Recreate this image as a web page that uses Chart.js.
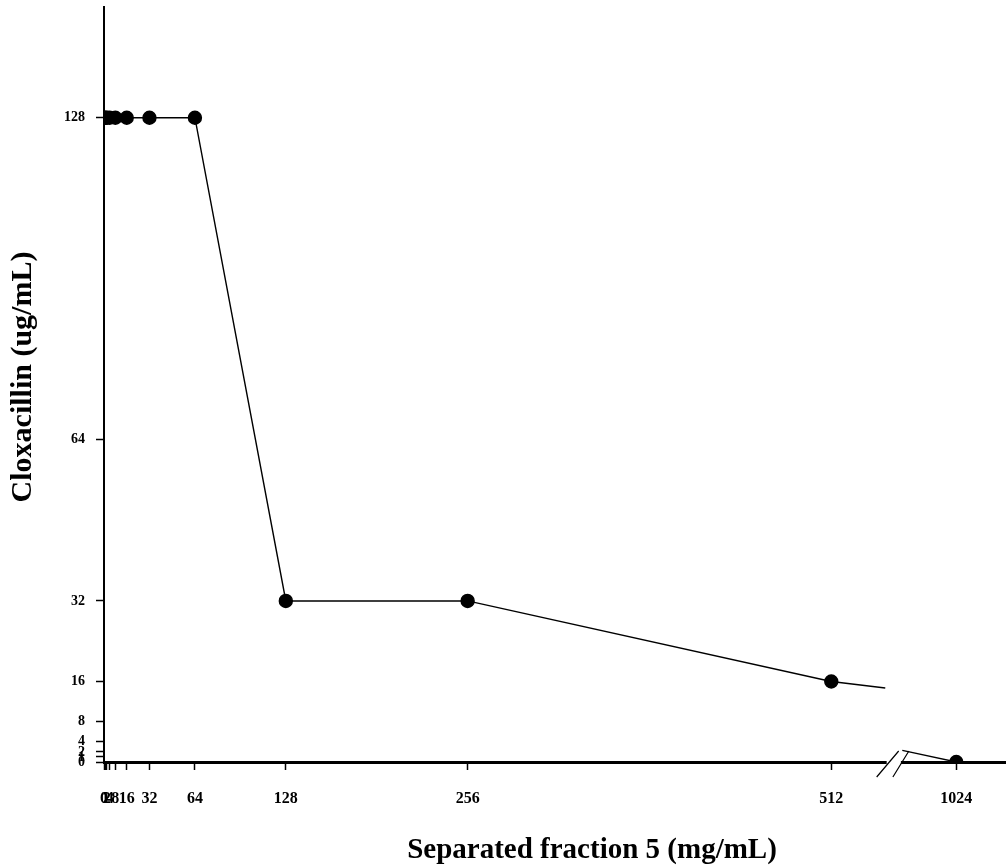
<!DOCTYPE html>
<html>
<head>
<meta charset="utf-8">
<script src="https://cdn.jsdelivr.net/npm/chart.js@4.4.1/dist/chart.umd.min.js"></script>
<style>
  html, body { margin: 0; padding: 0; background: #fff; }
  #wrap { width: 1006px; height: 867px; }
</style>
</head>
<body>
<div id="wrap"><canvas id="myChart"></canvas></div>
<script>
// data
const fraction5 = [0, 1, 2, 4, 8, 16, 32, 64, 128, 256, 512, 1024]; // mg/mL
const cloxacillin = [128, 128, 128, 128, 128, 128, 128, 128, 32, 32, 16, 0]; // ug/mL
const xTickLabels = [0, 1, 2, 4, 8, 16, 32, 64, 128, 256, 512, 1024];
const yTickLabels = [0, 1, 2, 4, 8, 16, 32, 64, 128];
const xTitle = 'Separated fraction 5 (mg/mL)';
const yTitle = 'Cloxacillin (ug/mL)';

// broken x axis: 1024 sits at axis position 600
const breakPos = 600;
const gapFrom = 550, gapTo = 562;
const stubLeft = [[512, 16], [550, 14.7]];
const stubRight = [[562, 2.3], [600, 0]];

const toAxis = v => v === 1024 ? breakPos : v;
const fromAxis = v => v === breakPos ? 1024 : v;

const serif = '"Liberation Serif", "Times New Roman", serif';

const axisBreak = {
  id: 'axisBreak',
  afterDraw(chart) {
    const c = chart.ctx;
    const x = chart.scales.x, y = chart.scales.y;
    const x1 = x.getPixelForValue(gapFrom + 1), x2 = x.getPixelForValue(gapTo - 1);
    const y0 = y.getPixelForValue(0);
    c.save();
    c.fillStyle = '#fff';
    c.fillRect(x1, y0 - 3, x2 - x1, 6);
    c.strokeStyle = '#000';
    c.lineWidth = 1.2;
    c.beginPath();
    c.moveTo(x1 - 10, y0 + 15); c.lineTo(x1 + 12, y0 - 11);
    c.moveTo(x2 - 8, y0 + 15); c.lineTo(x2 + 8, y0 - 11);
    c.stroke();

    // axis titles
    const area = chart.chartArea;
    c.fillStyle = '#000';
    c.textAlign = 'center';
    c.textBaseline = 'alphabetic';
    c.font = 'bold 29px ' + serif;
    c.fillText(xTitle, area.left + 488, 858);
    c.font = 'bold 30px ' + serif;
    c.translate(31, area.top + 370);
    c.rotate(-Math.PI / 2);
    c.fillText(yTitle, 0, 0);
    c.restore();
  }
};

const ctx = document.getElementById('myChart');

new Chart(ctx, {
  type: 'line',
  data: {
    datasets: [{
      data: fraction5.map((v, i) => ({ x: toAxis(v), y: cloxacillin[i] })),
      borderColor: '#000',
      backgroundColor: '#000',
      borderWidth: 1.4,
      pointRadius: 6.5,
      pointHoverRadius: 6.5,
      segment: {
        borderColor: s => s.p1DataIndex === fraction5.length - 1 ? 'rgba(0,0,0,0)' : '#000'
      }
    }, {
      data: stubLeft.map(p => ({ x: p[0], y: p[1] })),
      borderColor: '#000', borderWidth: 1.4, pointRadius: 0
    }, {
      data: stubRight.map(p => ({ x: p[0], y: p[1] })),
      borderColor: '#000', borderWidth: 1.4, pointRadius: 0
    }]
  },
  options: {
    responsive: true,
    maintainAspectRatio: false,
    animation: false,
    layout: { autoPadding: false, padding: { top: 7, right: 0, left: 0, bottom: 0 } },
    plugins: { legend: { display: false }, tooltip: { enabled: false } },
    scales: {
      x: {
        type: 'linear',
        min: 0,
        max: 635,
        afterBuildTicks: s => { s.ticks = xTickLabels.map(v => ({ value: toAxis(v) })); },
        afterFit: s => { s.height = 105; s.paddingLeft = 0; s.paddingRight = 0; },
        ticks: {
          autoSkip: false,
          maxRotation: 0,
          color: '#000',
          padding: 19,
          font: { family: serif, size: 16, weight: 'bold' },
          callback: v => fromAxis(v)
        },
        grid: { drawOnChartArea: false, tickLength: 8, tickColor: '#000', tickWidth: 1.5 },
        border: { color: '#000', width: 3 }
      },
      y: {
        type: 'linear',
        min: 0,
        max: 150,
        afterBuildTicks: s => { s.ticks = yTickLabels.map(v => ({ value: v })); },
        afterFit: s => { s.width = 104; s.paddingTop = 0; s.paddingBottom = 0; },
        ticks: {
          autoSkip: false,
          color: '#000',
          padding: 11,
          font: { family: serif, size: 14, weight: 'bold' }
        },
        grid: { drawOnChartArea: false, tickLength: 8, tickColor: '#000', tickWidth: 1.5 },
        border: { color: '#000', width: 2 }
      }
    }
  },
  plugins: [axisBreak]
});
</script>
</body>
</html>
